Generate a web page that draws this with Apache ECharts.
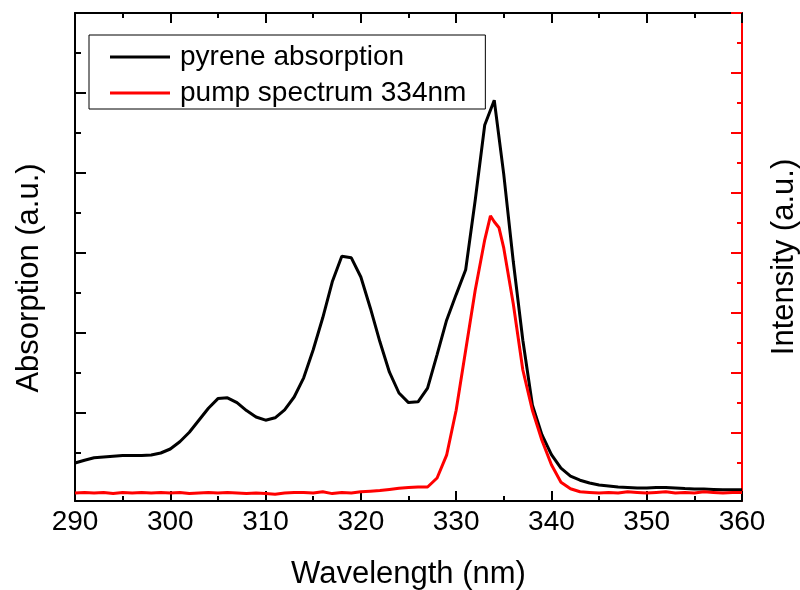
<!DOCTYPE html>
<html>
<head>
<meta charset="utf-8">
<script src="https://cdn.jsdelivr.net/npm/echarts@6/dist/echarts.min.js"></script>
<style>html,body{margin:0;padding:0;background:#fff;}#c{width:800px;height:590px;}</style>
</head>
<body>
<div id="c"></div>
<script>
// ---- data ----
const absWavelength = [290,291,292,293,294,295,296,297,298,299,300,301,302,303,304,305,306,307,308,309,310,311,312,313,314,315,316,317,318,319,320,321,322,323,324,325,326,327,328,329,330,331,332,333,334,335,336,337,338,339,340,341,342,343,344,345,346,347,348,349,350,351,352,353,354,355,356,357,358,359,360];
const absorption = [0.375,0.41,0.44,0.45,0.46,0.47,0.47,0.47,0.475,0.5,0.55,0.64,0.76,0.91,1.06,1.18,1.19,1.13,1.03,0.95,0.91,0.94,1.04,1.2,1.44,1.79,2.19,2.64,2.96,2.94,2.7,2.31,1.89,1.51,1.25,1.13,1.14,1.31,1.73,2.16,2.48,2.79,3.66,4.6,4.91,3.98,2.89,1.91,1.1,0.73,0.48,0.31,0.21,0.16,0.125,0.1,0.088,0.075,0.07,0.063,0.063,0.07,0.07,0.063,0.056,0.05,0.05,0.045,0.04,0.04,0.04];
const pumpWavelength = [290,291,292,293,294,295,296,297,298,299,300,301,302,303,304,305,306,307,308,309,310,311,312,313,314,315,316,317,318,319,320,321,322,323,324,325,326,327,328,329,330,331,332,333,333.6,334,334.5,335,336,337,338,339,340,341,342,343,344,345,346,347,348,349,350,351,352,353,354,355,356,357,358,359,360];
const pumpIntensity = [0.0,0.01,0.0,0.01,-0.01,0.01,0.0,0.01,0.0,0.01,0.0,0.01,-0.01,0.0,0.01,0.0,0.01,0.0,-0.01,0.0,-0.01,-0.02,0.0,0.01,0.01,0.0,0.02,-0.01,0.01,0.0,0.02,0.03,0.04,0.06,0.08,0.09,0.1,0.1,0.25,0.63,1.38,2.38,3.38,4.22,4.62,4.52,4.42,4.08,3.15,2.05,1.38,0.88,0.47,0.18,0.07,0.02,0.01,0.0,0.01,0.0,0.02,0.01,0.0,0.01,0.02,0.0,0.01,0.0,0.02,0.01,0.0,0.01,0.01];
const leftMajor = [0,1,2,3,4,5,6];
const leftMinor = [0.5,1.5,2.5,3.5,4.5,5.5];
const rightMajor = [0,1,2,3,4,5,6,7,8];
const rightMinor = [0.5,1.5,2.5,3.5,4.5,5.5,6.5,7.5];
const seriesNames = ['pyrene absorption','pump spectrum 334nm'];

const FONT = 'Liberation Sans, Arial, sans-serif';
const chart = echarts.init(document.getElementById('c'), null, {renderer:'canvas'});
const zip = (a,b) => a.map((v,i)=>[v,b[i]]);

const xBase = {
  type:'value', min:290, max:360, interval:10,
  axisLine:{show:true, onZero:false, lineStyle:{color:'#000', width:2}},
  axisTick:{show:true, inside:true, length:10, lineStyle:{color:'#000', width:2}},
  minorTick:{show:true, splitNumber:2, length:5, lineStyle:{color:'#000', width:2}},
  splitLine:{show:false}
};
const yLine = (c) => ({show:true, onZero:false, lineStyle:{color:c, width:2}});

chart.setOption({
  animation:false,
  backgroundColor:'#fff',
  grid:{left:75, right:58, top:13, bottom:89, containLabel:false, outerBoundsMode:'none'},
  legend:{
    orient:'vertical', left:89, top:35,
    data:seriesNames, icon:'rect',
    backgroundColor:'#fff', borderColor:'#000', borderWidth:1,
    padding:[8,19,2,21], itemGap:8, itemWidth:60, itemHeight:3,
    textStyle:{fontFamily:FONT, fontSize:28, lineHeight:28, color:'#000', padding:[0,0,0,5]}
  },
  xAxis:[
    Object.assign({}, xBase, {
      position:'bottom',
      axisLabel:{show:true, color:'#000', fontFamily:FONT, fontSize:28, margin:7},
      name:'Wavelength (nm)', nameLocation:'middle', nameGap:58,
      nameTextStyle:{fontFamily:FONT, fontSize:31, color:'#000'}
    }),
    Object.assign({}, xBase, {position:'top', axisLabel:{show:false}})
  ],
  yAxis:[
    {type:'value', position:'left', min:-0.1, max:6,
     axisLine:yLine('#000'),
     axisTick:{show:true, inside:true, length:11, customValues:leftMajor, lineStyle:{color:'#000', width:2}},
     axisLabel:{show:false}, splitLine:{show:false},
     name:'Absorption (a.u.)', nameLocation:'middle', nameGap:30,
     nameTextStyle:{fontFamily:FONT, fontSize:31, color:'#000', padding:[0,42,0,0]}},
    {type:'value', position:'left', min:-0.1, max:6,
     axisLine:{show:false, onZero:false},
     axisTick:{show:true, inside:true, length:6, customValues:leftMinor, lineStyle:{color:'#000', width:2}},
     axisLabel:{show:false}, splitLine:{show:false}},
    {type:'value', position:'right', min:-8/60, max:8,
     axisLine:yLine('#ff0000'),
     axisTick:{show:true, inside:true, length:11, customValues:rightMajor, lineStyle:{color:'#ff0000', width:2}},
     axisLabel:{show:false}, splitLine:{show:false},
     name:'Intensity (a.u.)', nameLocation:'middle', nameGap:27,
     nameTextStyle:{fontFamily:FONT, fontSize:31, color:'#000'}},
    {type:'value', position:'right', min:-8/60, max:8,
     axisLine:{show:false, onZero:false},
     axisTick:{show:true, inside:true, length:5, customValues:rightMinor, lineStyle:{color:'#ff0000', width:2}},
     axisLabel:{show:false}, splitLine:{show:false}}
  ],
  series:[
    {name:seriesNames[0], type:'line', xAxisIndex:0, yAxisIndex:0, data:zip(absWavelength, absorption),
     symbol:'none', lineStyle:{color:'#000', width:3}, itemStyle:{color:'#000'}, z:3},
    {name:seriesNames[1], type:'line', xAxisIndex:0, yAxisIndex:2, data:zip(pumpWavelength, pumpIntensity),
     symbol:'none', lineStyle:{color:'#ff0000', width:3}, itemStyle:{color:'#ff0000'}, z:4}
  ]
});
</script>
</body>
</html>
